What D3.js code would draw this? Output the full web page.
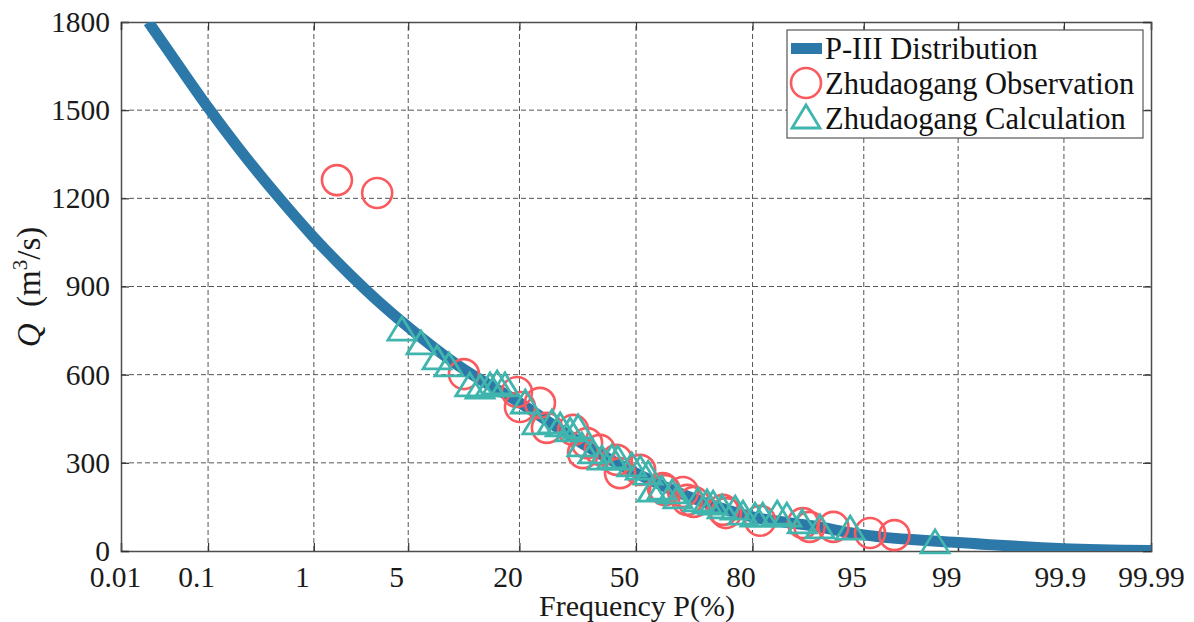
<!DOCTYPE html>
<html>
<head>
<meta charset="utf-8">
<title>P-III frequency curve, Zhudaogang</title>
<script src="https://cdn.jsdelivr.net/npm/d3@7"></script>
<style>
  body { margin: 0; background: #fff; }
  svg { display: block; font-family: "Liberation Serif", "Times New Roman", serif; }
</style>
</head>
<body>
<script>
// frequency ticks (%) on probability paper
var pTicks = [0.01, 0.1, 1, 5, 20, 50, 80, 95, 99, 99.9, 99.99];
var pTickLabels = ["0.01", "0.1", "1", "5", "20", "50", "80", "95", "99", "99.9", "99.99"];
var qTicks = [0, 300, 600, 900, 1200, 1500, 1800];

// fitted P-III curve
var curveP = [0.0215, 0.05, 0.1, 0.2, 0.5, 1, 2, 3, 5, 10, 20, 35, 50, 65, 80, 90, 95, 99, 99.9, 99.99];
var curveQ = [1800, 1643, 1509, 1376, 1201, 1067, 935, 858, 762, 630, 505, 365, 265, 184, 116, 85, 55, 29, 8, 2];

// observed floods (circles)
var obsP = [1.54, 3.08, 10.7, 19.5, 20.1, 24.4, 26.0, 32.5, 35.1, 36.2, 39.7, 44.5, 45.4, 51.2,
            57.7, 58.3, 63.3, 64.4, 66.2, 73.5, 74.2, 81.5, 88.6, 89.5, 92.3, 95.45, 96.9];
var obsQ = [1262, 1218, 602, 541, 490, 504, 419, 412, 333, 367, 344, 310, 265, 276,
            214, 207, 201, 174, 167, 140, 129, 103, 95, 82, 82, 61, 54];

// calculated floods (triangles)
var calP = [4.55, 6.03, 7.54, 8.85, 11.5, 13.0, 14.6, 15.8, 17.2, 21.2, 23.7, 27.2, 29.2, 31.7,
            33.8, 34.8, 37.8, 40.3, 43.1, 44.8, 48.8, 51.2, 53.5, 54.6, 57.4, 60.3, 61.9, 67.3,
            69.6, 71.1, 73.3, 76.3, 78.0, 80.5, 82.0, 84.6, 86.2, 88.5, 90.8, 93.9, 98.46];
var calQ = [755, 708, 657, 633, 565, 558, 565, 572, 565, 507, 436, 439, 429, 412,
            422, 361, 337, 316, 320, 316, 293, 282, 265, 207, 214, 201, 184, 174,
            167, 163, 150, 146, 129, 122, 122, 129, 122, 99, 82, 78, 31];

var width = 1194, height = 622;
var margin = {top: 22, right: 43, bottom: 71, left: 121};

var blue = "#2c78a8", red = "#fa5a5e", teal = "#40b5ae";
var serif = "'Liberation Serif', 'Times New Roman', serif";

// inverse normal cdf (Acklam)
function probit(p) {
  var a = [-3.969683028665376e+01, 2.209460984245205e+02, -2.759285104469687e+02, 1.383577518672690e+02, -3.066479806614716e+01, 2.506628277459239e+00];
  var b = [-5.447609879822406e+01, 1.615858368580409e+02, -1.556989798598866e+02, 6.680131188771972e+01, -1.328068155288572e+01];
  var c = [-7.784894002430293e-03, -3.223964580411365e-01, -2.400758277161838e+00, -2.549732539343734e+00, 4.374664141464968e+00, 2.938163982698783e+00];
  var d = [7.784695709041462e-03, 3.224671290700398e-01, 2.445134137142996e+00, 3.754408661907416e+00];
  var plow = 0.02425, q, r;
  if (p < plow) {
    q = Math.sqrt(-2 * Math.log(p));
    return (((((c[0]*q + c[1])*q + c[2])*q + c[3])*q + c[4])*q + c[5]) / ((((d[0]*q + d[1])*q + d[2])*q + d[3])*q + 1);
  }
  if (p <= 1 - plow) {
    q = p - 0.5; r = q * q;
    return (((((a[0]*r + a[1])*r + a[2])*r + a[3])*r + a[4])*r + a[5]) * q / (((((b[0]*r + b[1])*r + b[2])*r + b[3])*r + b[4])*r + 1);
  }
  q = Math.sqrt(-2 * Math.log(1 - p));
  return -(((((c[0]*q + c[1])*q + c[2])*q + c[3])*q + c[4])*q + c[5]) / ((((d[0]*q + d[1])*q + d[2])*q + d[3])*q + 1);
}

var zScale = d3.scaleLinear()
    .domain([probit(0.0001), probit(0.9999)])
    .range([margin.left, width - margin.right]);
function xp(p) { return zScale(probit(p / 100)); }

var y = d3.scaleLinear()
    .domain([0, 1800])
    .range([height - margin.bottom, margin.top]);

var svg = d3.select("body").append("svg")
    .attr("width", width)
    .attr("height", height);

var x0 = margin.left, x1 = width - margin.right, y0 = height - margin.bottom, y1 = margin.top;
var zTicks = pTicks.map(function(p) { return probit(p / 100); });

// grid
var grid = svg.append("g").attr("stroke", "#555").attr("stroke-width", 1).attr("stroke-dasharray", "5,3");
grid.selectAll(".vg").data(zTicks.slice(1, -1)).enter().append("line")
    .attr("x1", function(d) { return zScale(d); }).attr("x2", function(d) { return zScale(d); })
    .attr("y1", y0).attr("y2", y1);
grid.selectAll(".hg").data(qTicks.slice(1, -1)).enter().append("line")
    .attr("x1", x0).attr("x2", x1)
    .attr("y1", function(d) { return y(d); }).attr("y2", function(d) { return y(d); });

// axes (ticks inward)
var xAxis = svg.append("g")
    .attr("transform", "translate(0," + y0 + ")")
    .call(d3.axisBottom(zScale).tickValues(zTicks).tickSize(-8).tickPadding(15)
      .tickFormat(function(d, i) { return pTickLabels[i]; }));
xAxis.selectAll("text")
    .attr("dx", function(d, i) { return i === 0 ? -6 : (i === pTicks.length - 1 ? 0 : (i === 9 ? -4 : -12)); });

var yAxis = svg.append("g")
    .attr("transform", "translate(" + x0 + ",0)")
    .call(d3.axisLeft(y).tickValues(qTicks).tickSize(-8).tickPadding(11).tickFormat(d3.format("d")));

svg.append("g").attr("transform", "translate(0," + y1 + ")")
    .call(d3.axisTop(zScale).tickValues(zTicks).tickSize(-8).tickFormat(""));
svg.append("g").attr("transform", "translate(" + x1 + ",0)")
    .call(d3.axisRight(y).tickValues(qTicks).tickSize(-8).tickFormat(""));

svg.selectAll(".domain").attr("stroke", "#4d4d4d").attr("stroke-width", 1.5);
svg.selectAll(".tick line").attr("stroke", "#333").attr("stroke-width", 1.2);
svg.selectAll(".tick text").attr("fill", "#1a1a1a")
    .attr("font-family", serif).attr("font-size", 29.5)
    .style("font-size", "29.5px").style("font-family", serif);

// clip to plot box
svg.append("clipPath").attr("id", "clip").append("rect")
    .attr("x", x0).attr("y", y1).attr("width", x1 - x0).attr("height", y0 - y1);

var line = d3.line()
    .x(function(d, i) { return xp(curveP[i]); })
    .y(function(d) { return y(d); })
    .curve(d3.curveMonotoneX);

svg.append("path")
    .datum(curveQ)
    .attr("clip-path", "url(#clip)")
    .attr("fill", "none")
    .attr("stroke", blue)
    .attr("stroke-width", 11)
    .attr("d", line);

svg.append("g").selectAll("circle")
    .data(obsQ).enter().append("circle")
    .attr("cx", function(d, i) { return xp(obsP[i]); })
    .attr("cy", function(d) { return y(d); })
    .attr("r", 15)
    .attr("fill", "none")
    .attr("stroke", red)
    .attr("stroke-width", 2.6);

var tri = "M0,-12L14,11L-14,11Z";
svg.append("g").selectAll("path")
    .data(calQ).enter().append("path")
    .attr("transform", function(d, i) { return "translate(" + xp(calP[i]) + "," + y(d) + ")"; })
    .attr("d", tri)
    .attr("fill", "none")
    .attr("stroke", teal)
    .attr("stroke-width", 2.8)
    .attr("stroke-linejoin", "miter");

// legend
var lg = svg.append("g");
lg.append("rect").attr("x", 787).attr("y", 30).attr("width", 356).attr("height", 108)
    .attr("fill", "#fff").attr("stroke", "#555").attr("stroke-width", 1.2);
lg.append("rect").attr("x", 791).attr("y", 43).attr("width", 31).attr("height", 11).attr("fill", blue);
lg.append("circle").attr("cx", 806).attr("cy", 83).attr("r", 15)
    .attr("fill", "none").attr("stroke", red).attr("stroke-width", 2.6);
lg.append("path").attr("transform", "translate(806,117)").attr("d", tri)
    .attr("fill", "none").attr("stroke", teal).attr("stroke-width", 2.8);
var legendText = ["P-III Distribution", "Zhudaogang Observation", "Zhudaogang Calculation"];
lg.selectAll("text").data(legendText).enter().append("text")
    .attr("x", 825)
    .attr("y", function(d, i) { return 59 + i * 35; })
    .style("font-size", "30.5px")
    .attr("fill", "#111")
    .text(function(d) { return d; });

// axis titles
svg.append("text")
    .attr("x", 637).attr("y", 616)
    .attr("text-anchor", "middle")
    .style("font-size", "30px")
    .attr("fill", "#1a1a1a")
    .text("Frequency P(%)");

var yl = svg.append("text")
    .attr("transform", "translate(40,287) rotate(-90)")
    .attr("text-anchor", "middle")
    .style("font-size", "33px")
    .attr("fill", "#1a1a1a");
yl.append("tspan").style("font-style", "italic").text("Q");
yl.append("tspan").text("\u2002(m");
yl.append("tspan").attr("dy", -13).style("font-size", "21px").text("3");
yl.append("tspan").attr("dy", 13).text("/s)");
</script>
</body>
</html>
